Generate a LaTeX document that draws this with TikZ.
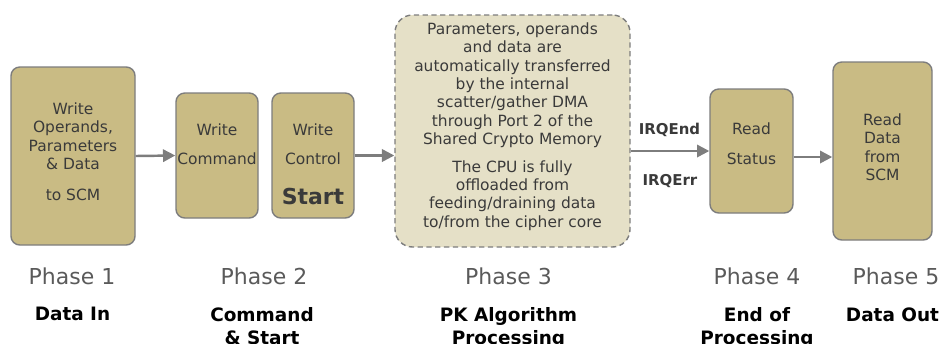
\documentclass[tikz,border=0pt]{standalone}
\usepackage{fontspec}
\setmainfont{DejaVu Sans}
\usetikzlibrary{arrows.meta,positioning}
\definecolor{boxtan}{RGB}{201,187,132}
\definecolor{dmafill}{RGB}{229,224,199}
\definecolor{edgegray}{RGB}{125,125,125}
\definecolor{txtgray}{RGB}{58,58,58}
\definecolor{phasegray}{RGB}{90,90,90}
\tikzset{
  >={Triangle[length=7pt,width=7pt]},
  phasebox/.style={draw=edgegray, fill=boxtan, line width=0.8pt, rounded corners=5pt},
  dmabox/.style={draw=edgegray, fill=dmafill, line width=0.8pt, dash pattern=on 3pt off 2pt, rounded corners=10pt},
  boxtext/.style={anchor=north, align=center, inner sep=0pt, text=txtgray, font=\fontsize{8.8}{10.5}\selectfont},
  irqlabel/.style={anchor=north, inner sep=0pt, text=txtgray, font=\fontsize{8.5}{10}\selectfont\bfseries},
  phaselabel/.style={anchor=north, inner sep=0pt, text=phasegray, font=\fontsize{12.5}{15}\selectfont},
  phasename/.style={anchor=north, align=center, inner sep=0pt, font=\fontsize{10.5}{13}\selectfont\bfseries},
  flow/.style={->, draw=edgegray, line width=1.4pt},
}

\begin{document}
\begin{tikzpicture}
    \useasboundingbox (0,0) rectangle (18.9,-6.86);
    % Boxes
    \node[phasebox, minimum width=2.48cm, minimum height=3.56cm] (wdata) at (1.46,-3.12) {};
    \node[phasebox, minimum width=1.64cm, minimum height=2.5cm]  (wcmd)  at (4.34,-3.11) {};
    \node[phasebox, minimum width=1.64cm, minimum height=2.5cm]  (wctrl) at (6.26,-3.11) {};
    \node[dmabox,   minimum width=4.7cm,  minimum height=4.64cm] (dma)   at (10.25,-2.62) {};
    \node[phasebox, minimum width=1.66cm, minimum height=2.48cm] (rstat) at (15.03,-3.02) {};
    \node[phasebox, minimum width=1.98cm, minimum height=3.56cm] (rdata) at (17.65,-3.02) {};
    % Box texts
    \node[boxtext] (wdatatxt) at (1.46,-2.04) {Write\\Operands,\\Parameters\\\& Data\\[7pt]to SCM};
    \node[boxtext] (wcmdtxt)  at (4.34,-2.46) {Write\\[6.5pt]Command};
    \node[boxtext] (wctrltxt) at (6.26,-2.46) {Write\\[6.5pt]Control\\[12pt]{\fontsize{12.5}{15}\selectfont\bfseries Start}};
    \node[boxtext] (dmatxt)   at (10.25,-0.44) {Parameters, operands\\and data are\\automatically transferred\\by the internal\\scatter/gather DMA\\through Port 2 of the\\Shared Crypto Memory\\[5pt]The CPU is fully\\offloaded from\\feeding/draining data\\to/from the cipher core};
    \node[boxtext] (rstattxt) at (15.03,-2.44) {Read\\[7pt]Status};
    \node[boxtext] (rdatatxt) at (17.65,-2.26) {Read\\Data\\from\\SCM};
    % Interrupts
    \node[irqlabel] (irqend) at (13.39,-2.46) {IRQEnd};
    \node[irqlabel] (irqerr) at (13.40,-3.48) {IRQErr};
    % Arrows
    \draw[flow] (wdata.east) -- (wcmd.west);
    \draw[flow] (wctrl.east) -- (wctrl.east -| dma.west);
    \draw[flow] (dma.east |- rstat.west) -- (rstat.west);
    \draw[flow] ([yshift=-0.12cm]rstat.east) -- ([yshift=-0.12cm]rstat.east -| rdata.west);
    % Phases
    \node[phaselabel] (ph1) at (1.44,-5.34)  {Phase 1};
    \node[phaselabel] (ph2) at (5.28,-5.34)  {Phase 2};
    \node[phaselabel] (ph3) at (10.17,-5.34) {Phase 3};
    \node[phaselabel] (ph4) at (15.14,-5.34) {Phase 4};
    \node[phaselabel] (ph5) at (17.92,-5.34) {Phase 5};
    \node[phasename] (nm1) at (1.45,-6.14)  {Data In};
    \node[phasename] (nm2) at (5.24,-6.14)  {Command\\\& Start};
    \node[phasename] (nm3) at (10.17,-6.14) {PK Algorithm\\Processing};
    \node[phasename] (nm4) at (15.14,-6.14) {End of\\Processing};
    \node[phasename] (nm5) at (17.85,-6.14) {Data Out};
\end{tikzpicture}
\end{document}
